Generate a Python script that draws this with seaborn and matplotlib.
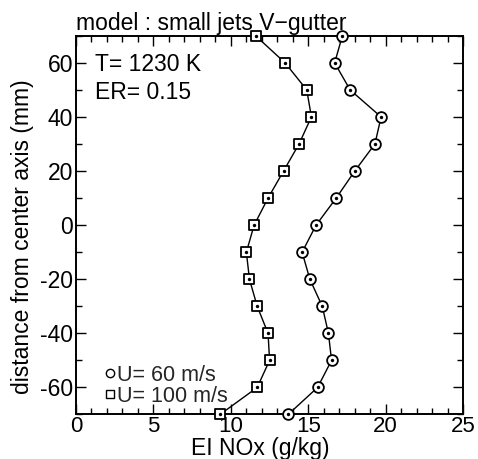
import matplotlib
matplotlib.use("Agg")
import matplotlib.pyplot as plt
import seaborn as sns
import pandas as pd
from matplotlib.lines import Line2D
from matplotlib.ticker import MultipleLocator

# data
distance_mm = [70, 60, 50, 40, 30, 20, 10, 0, -10, -20, -30, -40, -50, -60, -70]
ei_nox_u60 = [17.2, 16.7, 17.7, 19.7, 19.3, 18.0, 16.8, 15.5, 14.6, 15.1, 15.9, 16.3, 16.5, 15.6, 13.7]
ei_nox_u100 = [11.6, 13.5, 14.9, 15.2, 14.4, 13.4, 12.4, 11.5, 11.0, 11.2, 11.7, 12.4, 12.5, 11.7, 9.3]
series_labels = ["U= 60 m/s", "U= 100 m/s"]
title_text = "model : small jets V\u2212gutter"
notes = ["T= 1230 K", "ER= 0.15"]

sns.set_theme(style="ticks")
plt.rcParams["font.family"] = ["Liberation Sans", "DejaVu Sans"]
plt.rcParams["axes.unicode_minus"] = False

df60 = pd.DataFrame({"x": ei_nox_u60, "y": distance_mm})
df100 = pd.DataFrame({"x": ei_nox_u100, "y": distance_mm})

fs = 16.5
fig = plt.figure(figsize=(4.78, 4.59), dpi=100)
ax = fig.add_axes([0.159, 0.097, 0.81, 0.825])

for d, m in [(df60, "o"), (df100, "s")]:
    sns.lineplot(data=d, x="x", y="y", sort=False, estimator=None, color="black",
                 lw=1.0, ax=ax, zorder=2)
    sns.scatterplot(data=d, x="x", y="y", marker=m, s=60, facecolor="white",
                    edgecolor="black", linewidth=1.3, ax=ax, zorder=3, clip_on=False)
    sns.scatterplot(data=d, x="x", y="y", marker="o", s=6, color="black",
                    linewidth=0, ax=ax, zorder=4, clip_on=False)

ax.set_xlim(0, 25)
ax.set_ylim(-70, 70)
ax.xaxis.set_major_locator(MultipleLocator(5))
ax.xaxis.set_minor_locator(MultipleLocator(1))
ax.yaxis.set_major_locator(MultipleLocator(20))
ax.yaxis.set_minor_locator(MultipleLocator(10))
ax.tick_params(which="both", direction="in", top=True, right=True, labelsize=16,
               width=1.0, color="black", labelcolor="black")
ax.tick_params(axis="y", labelsize=fs)
ax.tick_params(axis="x", pad=1)
ax.tick_params(axis="y", pad=2)
ax.tick_params(which="major", length=7)
ax.tick_params(which="minor", length=4)
for sp in ax.spines.values():
    sp.set_linewidth(1.4)
    sp.set_color("black")

ax.set_ylabel("distance from center axis (mm)", fontsize=fs, color="black")
ax.yaxis.set_label_coords(-0.108, 0.47)
ax.set_title(title_text, fontsize=fs, loc="left", pad=4, color="black", x=0.0)

ax.text(0.05, 0.955, notes[0], transform=ax.transAxes, fontsize=fs, va="top", color="black")
ax.text(0.05, 0.88, notes[1], transform=ax.transAxes, fontsize=fs, va="top", color="black")

handles = [Line2D([], [], marker="o", ls="none", mfc="white", mec="black", ms=6, mew=1.0),
           Line2D([], [], marker="s", ls="none", mfc="white", mec="black", ms=6, mew=1.0)]
ax.legend(handles, series_labels, loc="lower left", frameon=False, fontsize=15.5,
          handlelength=0.5, handletextpad=0.05, borderaxespad=0.0, labelspacing=0.0,
          borderpad=0.0, bbox_to_anchor=(0.075, 0.02))

# x label placed just below the tick labels
ax.set_xlabel("EI NOx (g/kg)", fontsize=16.5, color="black")
fig.canvas.draw()
r = fig.canvas.get_renderer()
bottoms = [t.get_window_extent(r).y0 for t in ax.get_xticklabels() if t.get_text()]
ax_bb = ax.get_window_extent(r)
ybot = min(bottoms)
ax.xaxis.set_label_coords(0.475, (ybot - 0.5 - ax_bb.y0) / ax_bb.height)

fig.savefig("out.png", dpi=100)
